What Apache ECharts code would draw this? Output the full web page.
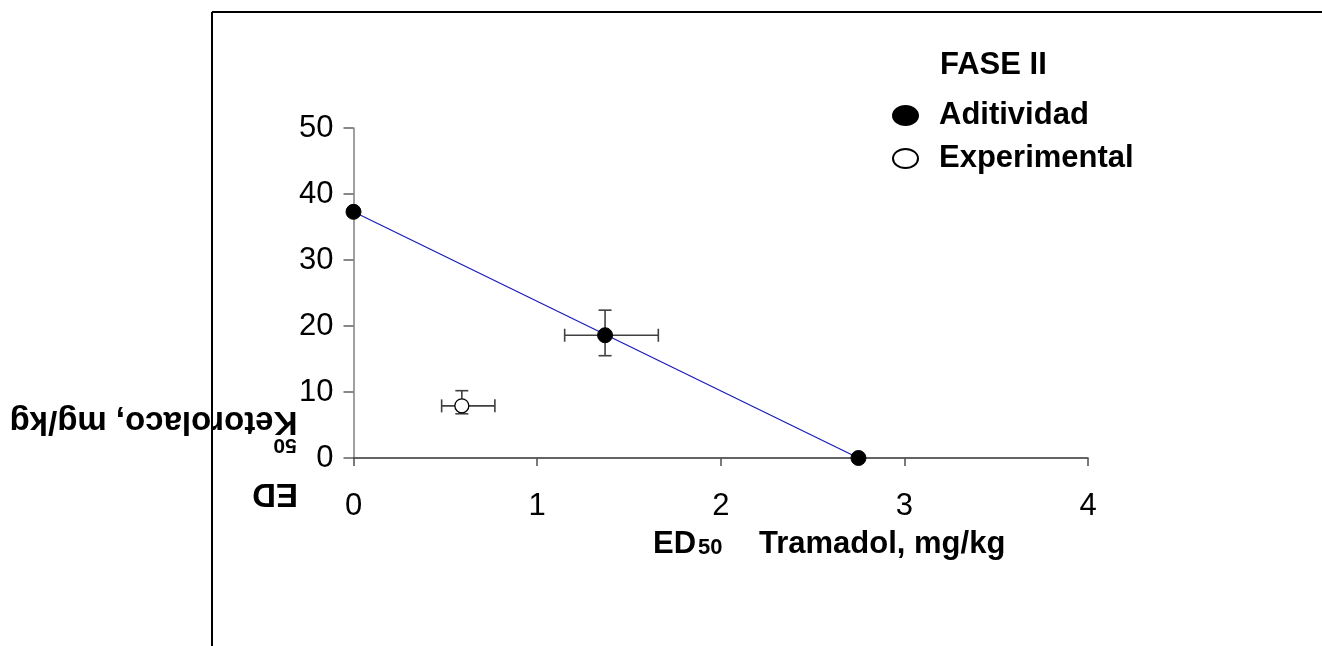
<!DOCTYPE html>
<html>
<head>
<meta charset="utf-8">
<script src="https://cdn.jsdelivr.net/npm/echarts@6/dist/echarts.min.js"></script>
<style>
html,body{margin:0;padding:0;background:#fff;}
#chart{width:1322px;height:646px;}
</style>
</head>
<body>
<div id="chart"></div>
<script>
// ---- data ----
const xTicks = [0, 1, 2, 3, 4];
const yTicks = [0, 10, 20, 30, 40, 50];
const aditX = [0, 1.37, 2.75];
const aditY = [37.3, 18.6, 0];
const expX = [0.59];
const expY = [7.9];
// error bars: [x, y, xLow, xHigh, yLow, yHigh]
const errAdit = [[1.37, 18.6, 1.15, 1.66, 15.5, 22.4]];
const errExp = [[0.59, 7.9, 0.48, 0.77, 6.7, 10.2]];
const lineX = [0, 2.75];
const lineY = [37.3, 0];

const FONT = "'Liberation Sans', Arial, sans-serif";
const chart = echarts.init(document.getElementById('chart'));

function errRender(params, api) {
  const x = api.value(0), y = api.value(1);
  const xl = api.coord([api.value(2), y]);
  const xh = api.coord([api.value(3), y]);
  const yl = api.coord([x, api.value(4)]);
  const yh = api.coord([x, api.value(5)]);
  const c = 6.5;
  const st = {stroke: '#404040', lineWidth: 1.6};
  const L = (x1, y1, x2, y2) => ({type: 'line', shape: {x1, y1, x2, y2}, style: st});
  return {type: 'group', children: [
    L(xl[0], xl[1], xh[0], xh[1]),
    L(xl[0], xl[1] - c, xl[0], xl[1] + c),
    L(xh[0], xh[1] - c, xh[0], xh[1] + c),
    L(yl[0], yl[1], yh[0], yh[1]),
    L(yl[0] - c, yl[1], yl[0] + c, yl[1]),
    L(yh[0] - c, yh[1], yh[0] + c, yh[1])
  ]};
}

const ellipse = 'path://M0 50 A50 50 0 1 0 100 50 A50 50 0 1 0 0 50 Z';

chart.setOption({
  animation: false,
  backgroundColor: '#fff',
  textStyle: {fontFamily: FONT},
  grid: {left: 353.5, right: 234, top: 128, bottom: 188, containLabel: false},
  xAxis: {
    type: 'value', min: xTicks[0], max: xTicks[xTicks.length - 1], interval: 1,
    axisLine: {lineStyle: {color: '#303030', width: 1.5}},
    axisTick: {length: 8, lineStyle: {color: '#505050', width: 1.5}},
    axisLabel: {fontSize: 31, color: '#000', margin: 33, fontFamily: FONT},
    splitLine: {show: false}
  },
  yAxis: {
    type: 'value', min: yTicks[0], max: yTicks[yTicks.length - 1], interval: 10,
    axisLine: {show: true, lineStyle: {color: '#808080', width: 1.5}},
    axisTick: {show: true, length: 10, lineStyle: {color: '#606060', width: 1.5}},
    axisLabel: {fontSize: 31, color: '#000', margin: 20, fontFamily: FONT},
    splitLine: {show: false}
  },
  legend: {
    orient: 'vertical', left: 887, top: 95, itemWidth: 25, itemHeight: 19, itemGap: 12,
    symbolKeepAspect: false,
    data: [
      {name: 'Aditividad', icon: ellipse},
      {name: 'Experimental', icon: ellipse}
    ],
    textStyle: {fontSize: 31, fontWeight: 'bold', color: '#000', fontFamily: FONT, padding: [0, 0, 0, 16]}
  },
  series: [
    {
      type: 'line', data: lineX.map((x, i) => [x, lineY[i]]), symbol: 'none',
      lineStyle: {color: '#1a1ab8', width: 1.2}, z: 1, silent: true
    },
    {type: 'custom', renderItem: errRender, data: errAdit, z: 2, silent: true},
    {type: 'custom', renderItem: errRender, data: errExp, z: 2, silent: true},
    {
      name: 'Aditividad', type: 'scatter', data: aditX.map((x, i) => [x, aditY[i]]),
      symbol: 'circle', symbolSize: 15, itemStyle: {color: '#000', borderColor: '#000', borderWidth: 1, opacity: 1}, z: 3
    },
    {
      name: 'Experimental', type: 'scatter', data: expX.map((x, i) => [x, expY[i]]),
      symbol: 'circle', symbolSize: 14, itemStyle: {color: '#fff', borderColor: '#000', borderWidth: 1.3, opacity: 1}, z: 3
    }
  ],
  graphic: [
    {type: 'line', shape: {x1: 212, y1: 12, x2: 1322, y2: 12}, style: {stroke: '#000', lineWidth: 2}},
    {type: 'line', shape: {x1: 212, y1: 12, x2: 212, y2: 646}, style: {stroke: '#000', lineWidth: 2}},
    {type: 'text', x: 940, y: 65, style: {text: 'FASE II', font: "bold 31px " + FONT, fill: '#000', textAlign: 'left', textVerticalAlign: 'middle'}},
    {type: 'text', x: 653, y: 544, style: {text: 'ED', font: "bold 31px " + FONT, fill: '#000', textAlign: 'left', textVerticalAlign: 'middle'}},
    {type: 'text', x: 698, y: 548, style: {text: '50', font: "bold 22px " + FONT, fill: '#000', textAlign: 'left', textVerticalAlign: 'middle'}},
    {type: 'text', x: 759, y: 544, style: {text: 'Tramadol, mg/kg', font: "bold 31px " + FONT, fill: '#000', textAlign: 'left', textVerticalAlign: 'middle'}},
    {type: 'text', x: 153.5, y: 421.5, rotation: Math.PI, style: {text: 'Ketorolaco, mg/kg', font: "bold 33px " + FONT, fill: '#000', textAlign: 'center', textVerticalAlign: 'middle'}},
    {type: 'text', x: 285, y: 444.5, rotation: Math.PI, style: {text: '50', font: "bold 21px " + FONT, fill: '#000', textAlign: 'center', textVerticalAlign: 'middle'}},
    {type: 'text', x: 275, y: 493.5, rotation: Math.PI, style: {text: 'ED', font: "bold 33px " + FONT, fill: '#000', textAlign: 'center', textVerticalAlign: 'middle'}}
  ]
});
</script>
</body>
</html>
